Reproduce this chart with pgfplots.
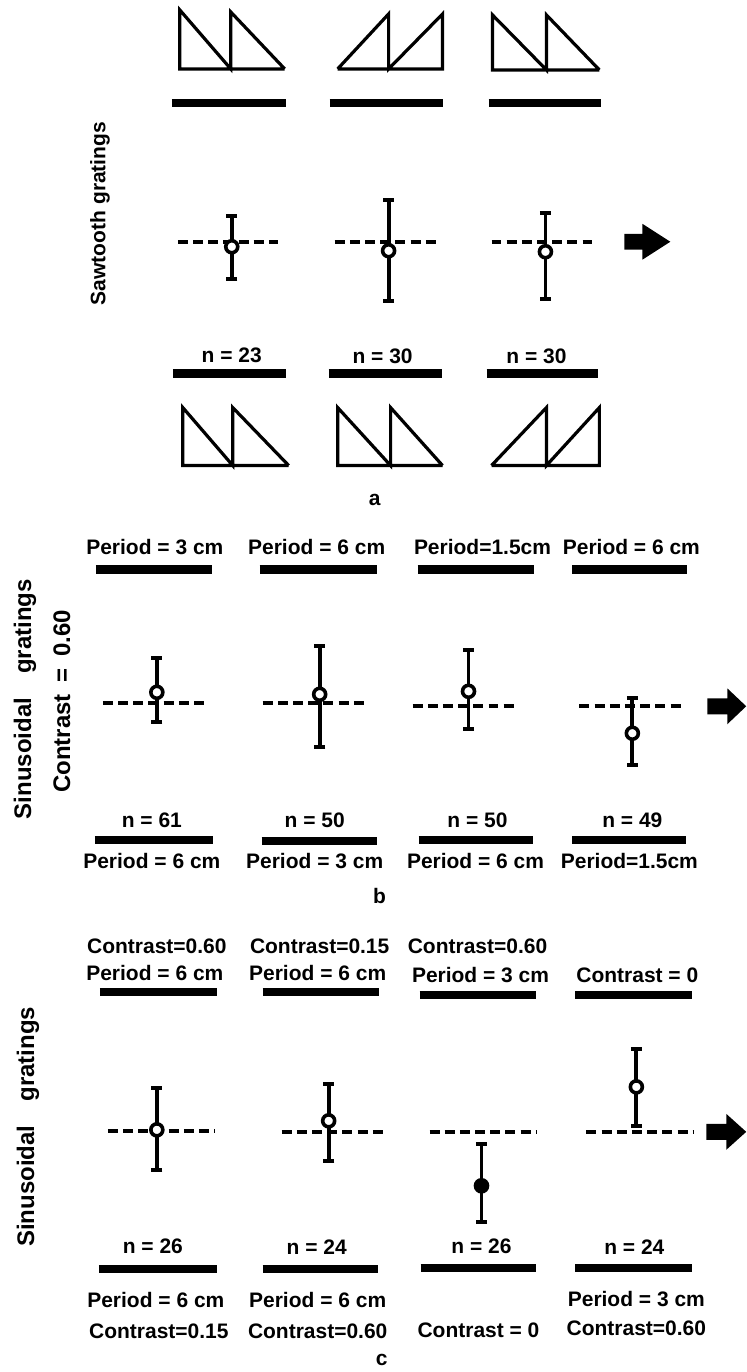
\documentclass[border=0pt]{standalone}
\usepackage{fontspec}
\setmainfont{Liberation Sans}
\usepackage{pgfplots}
\pgfplotsset{compat=1.18}
\newcommand\lbl{\fontsize{10.5}{12}\selectfont\bfseries}
\newcommand\ylbl{\fontsize{12}{14}\selectfont\bfseries}
\pgfplotsset{
  saw/.style={line width=1.6pt, line join=miter, mark=none},
  thickbar/.style={line width=4.2pt, mark=none},
  ref/.style={line width=1.9pt, dash pattern=on 5pt off 2.6pt, mark=none},
  pt/.style={mark=*, only marks, mark size=3pt,
    mark options={fill=white, draw=black, line width=1.8pt},
    error bars/.cd, y dir=both, y explicit,
    error bar style={line width=1.9pt},
    error mark options={rotate=90, line width=2pt, mark size=2.8pt}},
  ptfill/.style={mark=*, only marks, mark size=3pt,
    mark options={fill=black, draw=black, line width=1.8pt},
    error bars/.cd, y dir=both, y explicit,
    error bar style={line width=1.9pt},
    error mark options={rotate=90, line width=2pt, mark size=2.8pt}},
  arr/.style={fill=black, draw=none, mark=none},
}
\begin{document}
\begin{tikzpicture}
\begin{axis}[
  width=373.5pt, height=686pt, scale only axis,
  xmin=0, xmax=747, ymin=0, ymax=1372, y dir=reverse,
  hide axis, clip=false,
  every axis plot/.append style={black},
]
% frame extent (invisible)
\addplot[draw=none, mark=none] coordinates {(0,0) (747,1372)};

% ================= Panel a =================
\addplot[saw] coordinates {(285,69) (180,69) (180,10) (231,69) (231,12) (285,69)};
\addplot[saw] coordinates {(338,69) (443,69) (443,14) (389,69) (389,14) (338,69)};
\addplot[saw] coordinates {(600,70) (493,70) (493,15) (547,70) (547,15) (600,70)};
\addplot[thickbar] coordinates {(172,103) (286,103)};
\addplot[thickbar] coordinates {(330,103) (443,103)};
\addplot[thickbar] coordinates {(489,103) (602,103)};
\addplot[ref] coordinates {(178,242) (278,242)};
\addplot[ref] coordinates {(335,242) (436,242)};
\addplot[ref] coordinates {(492,242) (593,242)};
\addplot[pt] coordinates {(232,247) += (0,32) -= (0,31)};
\addplot[pt] coordinates {(389,251) += (0,50) -= (0,51)};
\addplot[pt] coordinates {(546,252) += (0,47) -= (0,39)};
\addplot[arr] coordinates {(625,234) (643,234) (643,224) (671,242) (643,260) (643,250) (625,250)};
\node[font=\lbl] at (axis cs:232,356) {n = 23};
\node[font=\lbl] at (axis cs:383,357) {n = 30};
\node[font=\lbl] at (axis cs:537,357) {n = 30};
\addplot[thickbar] coordinates {(173,374) (286,374)};
\addplot[thickbar] coordinates {(329,374) (442,374)};
\addplot[thickbar] coordinates {(487,374) (599,374)};
\addplot[saw] coordinates {(289,466) (183,466) (183,408) (233,466) (233,408) (289,466)};
\addplot[saw] coordinates {(443,466) (338,466) (338,408) (391,466) (391,408) (443,466)};
\addplot[saw] coordinates {(492,466) (600,466) (600,408) (547,466) (547,408) (492,466)};
\node[font=\lbl] at (axis cs:375,500) {a};
\node[font={\fontsize{10.5}{13}\selectfont\bfseries}, rotate=90] at (axis cs:100,214) {Sawtooth\hspace{0.3em}gratings};

% ================= Panel b =================
\node[font=\lbl] at (axis cs:155,548) {Period = 3 cm};
\node[font=\lbl] at (axis cs:317,548) {Period = 6 cm};
\node[font=\lbl] at (axis cs:483,548) {Period=1.5cm};
\node[font=\lbl] at (axis cs:632,548) {Period = 6 cm};
\addplot[thickbar] coordinates {(96,570) (212,570)};
\addplot[thickbar] coordinates {(260,570) (377,570)};
\addplot[thickbar] coordinates {(418,570) (535,570)};
\addplot[thickbar] coordinates {(573,570) (688,570)};
\addplot[ref] coordinates {(103,704) (209,704)};
\addplot[ref] coordinates {(263,704) (369,704)};
\addplot[ref] coordinates {(413,707) (519,707)};
\addplot[ref] coordinates {(580,707) (686,707)};
\addplot[pt] coordinates {(157,693) += (0,30) -= (0,34)};
\addplot[pt] coordinates {(320,695) += (0,53) -= (0,48)};
\addplot[pt] coordinates {(469,692) += (0,38) -= (0,41)};
\addplot[pt] coordinates {(633,734) += (0,32) -= (0,35)};
\addplot[arr] coordinates {(708,699) (728,699) (728,689) (747,707) (728,725) (728,715) (708,715)};
\node[font=\lbl] at (axis cs:152,821) {n = 61};
\node[font=\lbl] at (axis cs:315,821) {n = 50};
\node[font=\lbl] at (axis cs:478,821) {n = 50};
\node[font=\lbl] at (axis cs:633,821) {n = 49};
\addplot[thickbar] coordinates {(95,841) (213,841)};
\addplot[thickbar] coordinates {(262,842) (377,842)};
\addplot[thickbar] coordinates {(419,841) (534,841)};
\addplot[thickbar] coordinates {(573,841) (687,841)};
\node[font=\lbl] at (axis cs:152,862) {Period = 6 cm};
\node[font=\lbl] at (axis cs:315,862) {Period = 3 cm};
\node[font=\lbl] at (axis cs:476,862) {Period = 6 cm};
\node[font=\lbl] at (axis cs:630,862) {Period=1.5cm};
\node[font=\lbl] at (axis cs:380,897) {b};
\node[font=\ylbl, rotate=90] at (axis cs:25,700) {Sinusoidal\hspace{1em}gratings};
\node[font=\ylbl, rotate=90] at (axis cs:62,702) {Contrast\hspace{0.5em}=\hspace{0.5em}0.60};

% ================= Panel c =================
\node[font=\lbl] at (axis cs:157,947) {Contrast=0.60};
\node[font=\lbl] at (axis cs:320,947) {Contrast=0.15};
\node[font=\lbl] at (axis cs:478,947) {Contrast=0.60};
\node[font=\lbl] at (axis cs:155,974) {Period = 6 cm};
\node[font=\lbl] at (axis cs:318,974) {Period = 6 cm};
\node[font=\lbl] at (axis cs:481,976) {Period = 3 cm};
\node[font=\lbl] at (axis cs:638,976) {Contrast = 0};
\addplot[thickbar] coordinates {(100,993) (217,993)};
\addplot[thickbar] coordinates {(263,993) (379,993)};
\addplot[thickbar] coordinates {(420,996) (537,996)};
\addplot[thickbar] coordinates {(576,996) (693,996)};
\addplot[ref] coordinates {(108,1132) (215,1132)};
\addplot[ref] coordinates {(282,1133) (387,1133)};
\addplot[ref] coordinates {(430,1133) (537,1133)};
\addplot[ref] coordinates {(587,1133) (694,1133)};
\addplot[pt] coordinates {(157,1131) += (0,40) -= (0,42)};
\addplot[pt] coordinates {(329,1122) += (0,40) -= (0,37)};
\addplot[ptfill] coordinates {(482,1187) += (0,36) -= (0,42)};
\addplot[pt] coordinates {(637,1088) += (0,39) -= (0,38)};
\addplot[arr] coordinates {(707,1125) (727,1125) (727,1115) (747,1133) (727,1151) (727,1141) (707,1141)};
\node[font=\lbl] at (axis cs:153,1248) {n = 26};
\node[font=\lbl] at (axis cs:317,1248) {n = 24};
\node[font=\lbl] at (axis cs:482,1248) {n = 26};
\node[font=\lbl] at (axis cs:635,1248) {n = 24};
\addplot[thickbar] coordinates {(99,1270) (217,1270)};
\addplot[thickbar] coordinates {(263,1270) (378,1270)};
\addplot[thickbar] coordinates {(421,1269) (537,1269)};
\addplot[thickbar] coordinates {(576,1269) (693,1269)};
\node[font=\lbl] at (axis cs:156,1301) {Period = 6 cm};
\node[font=\lbl] at (axis cs:318,1301) {Period = 6 cm};
\node[font=\lbl] at (axis cs:637,1300) {Period = 3 cm};
\node[font=\lbl] at (axis cs:159,1333) {Contrast=0.15};
\node[font=\lbl] at (axis cs:318,1333) {Contrast=0.60};
\node[font=\lbl] at (axis cs:479,1332) {Contrast = 0};
\node[font=\lbl] at (axis cs:637,1330) {Contrast=0.60};
\node[font=\lbl] at (axis cs:382,1361) {c};
\node[font=\ylbl, rotate=90] at (axis cs:28,1128) {Sinusoidal\hspace{1em}gratings};
\end{axis}
\end{tikzpicture}
\end{document}
